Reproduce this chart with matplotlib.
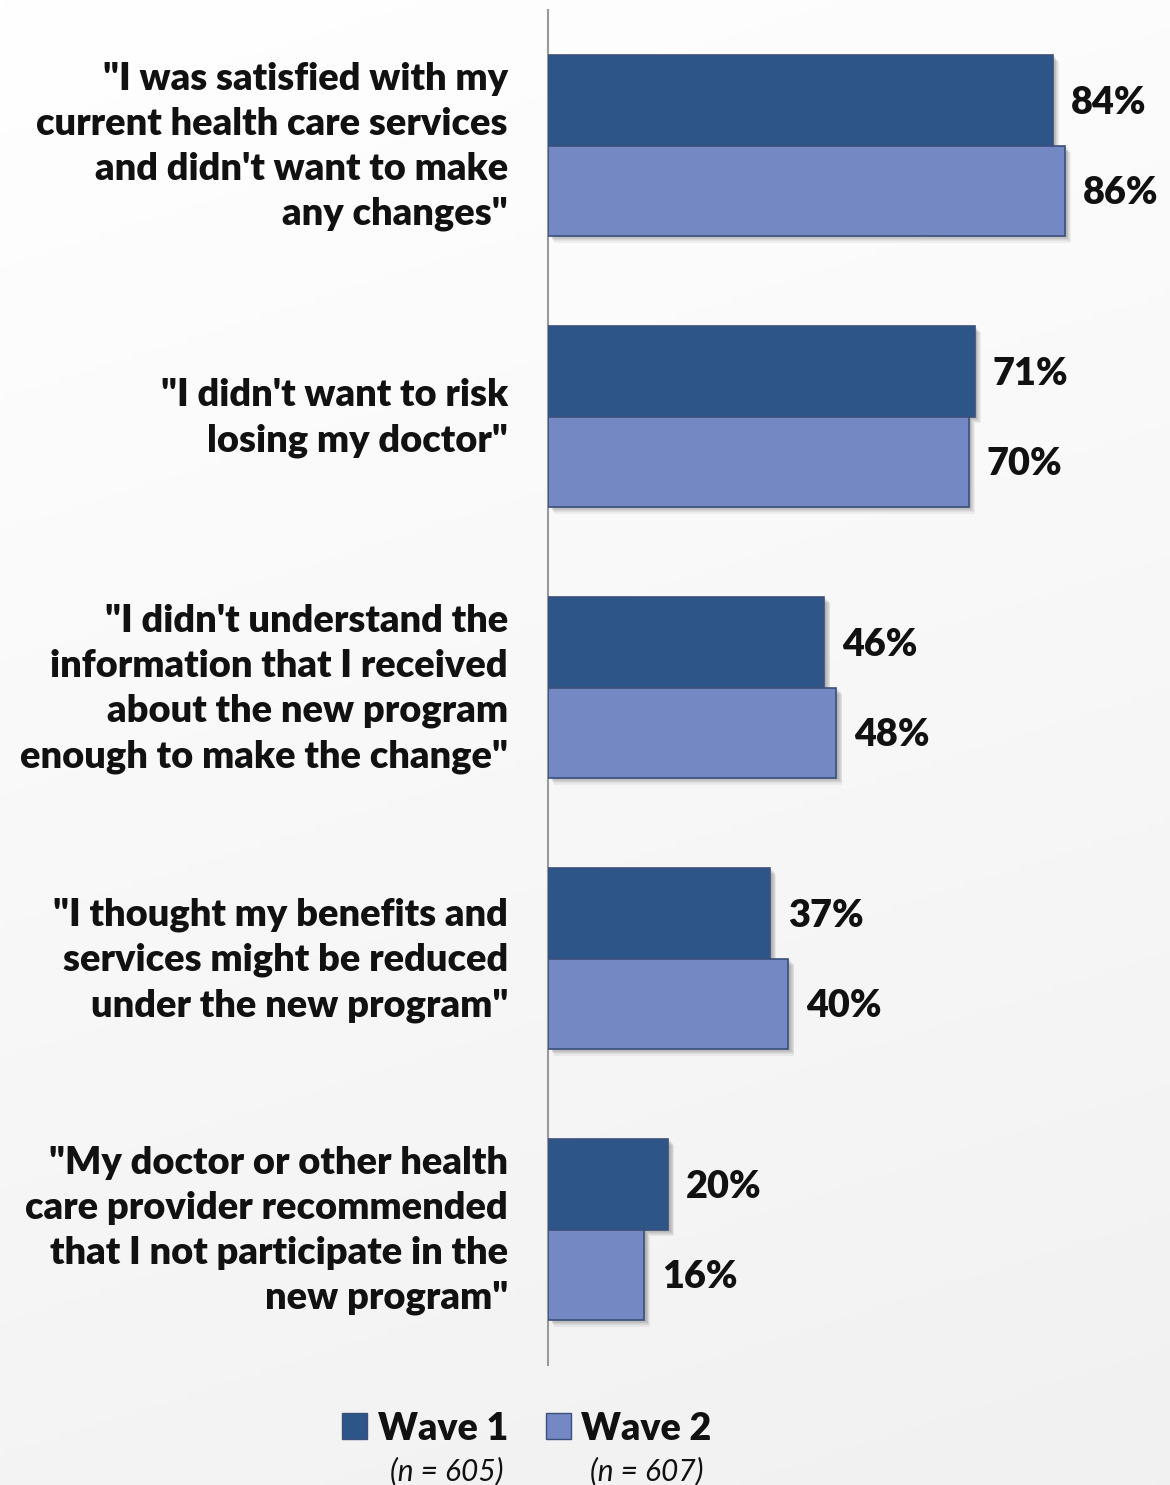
import matplotlib
matplotlib.use("Agg")
import matplotlib.pyplot as plt
import numpy as np
from matplotlib.patches import Rectangle

categories = [
    "\"I was satisfied with my\ncurrent health care services\nand didn't want to make\nany changes\"",
    "\"I didn't want to risk\nlosing my doctor\"",
    "\"I didn't understand the\ninformation that I received\nabout the new program\nenough to make the change\"",
    "\"I thought my benefits and\nservices might be reduced\nunder the new program\"",
    "\"My doctor or other health\ncare provider recommended\nthat I not participate in the\nnew program\"",
]
wave1 = [84, 71, 46, 37, 20]
wave2 = [86, 70, 48, 40, 16]
series_names = ["Wave 1", "Wave 2"]
series_n = ["(n = 605)", "(n = 607)"]

C1 = "#2E5588"
C2 = "#7489C3"
EDGE = "#3B4F7C"
FONT = "Lato"
WT = 800

W, H = 1170, 1485
fig = plt.figure(figsize=(W / 100, H / 100), dpi=100)

# background gradient
bg = fig.add_axes([0, 0, 1, 1], zorder=-10)
yy = np.linspace(0, 1, 256)[:, None]
xx = np.linspace(0, 1, 256)[None, :]
grad = 1.0 - 0.055 * (0.8 * yy + 0.2 * xx)
bg.imshow(np.dstack([grad, grad, grad]), aspect="auto", extent=[0, 1, 0, 1], origin="upper")
bg.axis("off")

x0 = 548
ax = fig.add_axes([x0 / W, 1 - 1365 / H, 1 - x0 / W, (1365 - 10) / H])
ax.patch.set_alpha(0)
xmax = (W - x0) / 6.01
ax.set_xlim(0, xmax)
ax.set_ylim(len(categories) - 0.5, -0.5)

h = 0.334
y = np.arange(len(categories))
# soft shadows
for vals, off in ((wave1, -h / 2), (wave2, h / 2)):
    for k in range(1, 7):
        a = 0.05
        for yi, v in zip(y, vals):
            ax.add_patch(Rectangle((0.2 + k * 0.13, yi + off - h / 2 + k * 0.004), v, h,
                                   facecolor="black", alpha=a, edgecolor="none", zorder=1))

ax.barh(y - h / 2, wave1, height=h, color=C1, edgecolor=EDGE, linewidth=1.2, zorder=3)
ax.barh(y + h / 2, wave2, height=h, color=C2, edgecolor=EDGE, linewidth=1.2, zorder=3)

for yi, v in zip(y, wave1):
    ax.text(v + 3.0, yi - h / 2 + 0.01, f"{v}%", ha="left", va="center", fontsize=27.3,
            fontweight=WT, family=FONT, color="#111111")
for yi, v in zip(y, wave2):
    ax.text(v + 3.0, yi + h / 2 + 0.01, f"{v}%", ha="left", va="center", fontsize=27.3,
            fontweight=WT, family=FONT, color="#111111")

for yi, lab in zip(y, categories):
    ax.text(-40 / 6.01, yi + 0.005, lab, ha="right", va="center", fontsize=27.4, fontweight=WT,
            family=FONT, color="#111111", linespacing=1.39)

for s in ["top", "right", "bottom"]:
    ax.spines[s].set_visible(False)
ax.spines["left"].set_color("#9a9a9a")
ax.spines["left"].set_linewidth(1.5)
ax.set_xticks([])
ax.set_yticks([])

# legend
colors = [C1, C2]
sq_x = [342, 546]
txt_x = [378, 581]
n_cx = [447, 647]
for i in range(2):
    fig.patches.append(Rectangle((sq_x[i] / W, 1 - 1439 / H), 25 / W, 26 / H,
                                 transform=fig.transFigure, facecolor=colors[i],
                                 edgecolor=EDGE, linewidth=1))
    fig.text(txt_x[i] / W, 1 - 1429 / H, series_names[i], ha="left", va="center",
             fontsize=27, fontweight=WT, family=FONT, color="#111111")
    fig.text(n_cx[i] / W, 1 - 1471 / H, series_n[i], ha="center", va="center",
             fontsize=21.5, fontstyle="italic", family=FONT, color="#111111")

fig.savefig("out.png", dpi=100)
